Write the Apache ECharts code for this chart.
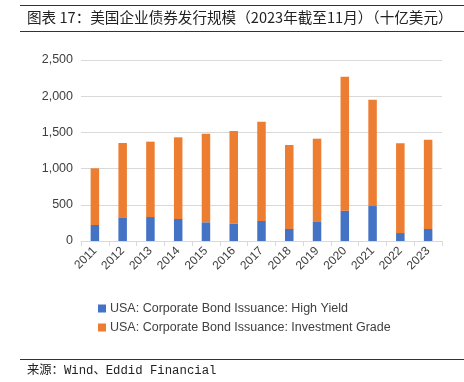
<!DOCTYPE html>
<html>
<head>
<meta charset="utf-8">
<script src="https://cdn.jsdelivr.net/npm/echarts@6/dist/echarts.min.js"></script>
<style>
  html, body { margin: 0; padding: 0; background: #fff; }
  #chart { width: 464px; height: 382px; }
</style>
</head>
<body>
<div id="chart"></div>
<script>
// 美国企业债券发行规模 — 高收益 + 投资级 堆叠柱
const years = ["2011", "2012", "2013", "2014", "2015", "2016", "2017", "2018", "2019", "2020", "2021", "2022", "2023"];
const highYield = [221, 327, 331, 304, 258, 239, 276, 166, 272, 419, 483, 110, 166];
const investGrade = [783, 1027, 1041, 1128, 1224, 1280, 1372, 1160, 1141, 1851, 1469, 1239, 1234];
const yTicks = [0, 500, 1000, 1500, 2000, 2500];

const titleText = "图表 17：美国企业债券发行规模（2023年截至11月）（十亿美元）";
const sourceText = "来源：Wind、Eddid Financial";

const chart = echarts.init(document.getElementById("chart"), null, { renderer: "canvas" });

const axisColor = "#404040";
const gridColor = "#d9d9d9";

chart.setOption({
  animation: false,
  color: ["#4472C4", "#ED7D31"],
  grid: { left: 81, right: 22, top: 60, bottom: 141, outerBoundsMode: "none" },
  legend: {
    orient: "vertical",
    left: 93,
    top: 297,
    icon: "rect",
    itemWidth: 8,
    itemHeight: 8,
    itemGap: 6,
    textStyle: { color: "#404040", fontSize: 12.5, fontFamily: "Liberation Sans, Arial", padding: [0, 0, 0, -1] },
    data: ["USA: Corporate Bond Issuance: High Yield", "USA: Corporate Bond Issuance: Investment Grade"],
  },
  xAxis: {
    type: "category",
    data: years,
    axisLine: { lineStyle: { color: gridColor } },
    axisTick: { show: true, length: 5, alignWithLabel: false, lineStyle: { color: gridColor } },
    axisLabel: {
      rotate: 45,
      interval: 0,
      margin: 8,
      color: axisColor,
      fontSize: 12,
      fontFamily: "Liberation Sans, Arial",
    },
  },
  yAxis: {
    type: "value",
    min: yTicks[0],
    max: yTicks[yTicks.length - 1],
    interval: 500,
    axisLine: { show: false },
    axisTick: { show: false },
    axisLabel: {
      margin: 8,
      color: axisColor,
      fontSize: 12.5,
      fontFamily: "Liberation Sans, Arial",
      formatter: (v) => v.toLocaleString("en-US"),
    },
    splitLine: { lineStyle: { color: gridColor } },
  },
  series: [
    {
      name: "USA: Corporate Bond Issuance: High Yield",
      type: "bar",
      stack: "total",
      barWidth: 8.5,
      data: highYield,
    },
    {
      name: "USA: Corporate Bond Issuance: Investment Grade",
      type: "bar",
      stack: "total",
      barWidth: 8.5,
      data: investGrade,
    },
  ],
  graphic: [
    { type: "line", shape: { x1: 20, y1: 5.5, x2: 464, y2: 5.5 }, style: { stroke: "#333", lineWidth: 1 } },
    { type: "line", shape: { x1: 20, y1: 31.5, x2: 464, y2: 31.5 }, style: { stroke: "#333", lineWidth: 1 } },
    {
      type: "text",
      left: 27,
      top: 10,
      style: { text: titleText, fill: "#222", font: "14.6px 'Noto Sans CJK SC', sans-serif" },
    },
    { type: "line", shape: { x1: 20, y1: 359.5, x2: 464, y2: 359.5 }, style: { stroke: "#333", lineWidth: 1 } },
    {
      type: "text",
      left: 27,
      top: 365,
      style: { text: sourceText, fill: "#222", font: "12.3px 'Liberation Mono', 'Noto Sans CJK SC', monospace" },
    },
  ],
});
</script>
</body>
</html>
